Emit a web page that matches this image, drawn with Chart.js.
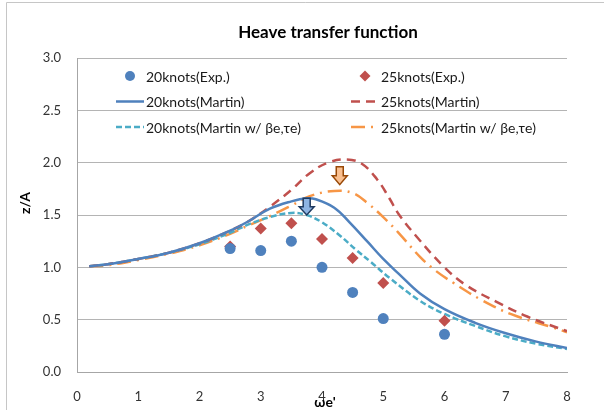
<!DOCTYPE html>
<html>
<head>
<meta charset="utf-8">
<script src="https://cdn.jsdelivr.net/npm/chart.js@4.4.0/dist/chart.umd.min.js"></script>
<style>
body { margin: 0; background: #fff; }
</style>
</head>
<body>
<canvas id="heaveChart" width="608" height="410"></canvas>
<script>
// experiments
const expX = [2.5, 3, 3.5, 4, 4.5, 5, 6];
const exp20 = [1.18, 1.16, 1.25, 1.00, 0.76, 0.51, 0.36];
const exp25 = [1.20, 1.37, 1.42, 1.27, 1.09, 0.85, 0.49];

// Martin, 20 knots
const m20X = [0.2, 0.5, 1, 1.5, 2, 2.5, 2.8, 3.15, 3.5, 3.75, 3.9, 4.2, 4.45, 4.75, 5, 5.25, 5.6, 6, 6.5, 7, 7.5, 8];
const m20Y = [1.01, 1.03, 1.08, 1.14, 1.23, 1.35, 1.44, 1.56, 1.63, 1.66, 1.65, 1.57, 1.43, 1.24, 1.08, 0.94, 0.75, 0.60, 0.47, 0.37, 0.29, 0.23];

// Martin, 25 knots
const m25X = [0.2, 0.5, 1, 1.5, 2, 2.5, 2.8, 3.15, 3.5, 3.8, 4.1, 4.4, 4.65, 4.9, 5.1, 5.25, 5.55, 6, 6.35, 6.85, 7.35, 8];
const m25Y = [1.01, 1.03, 1.08, 1.14, 1.23, 1.35, 1.44, 1.58, 1.74, 1.90, 2.00, 2.03, 1.99, 1.84, 1.66, 1.51, 1.29, 1.00, 0.83, 0.67, 0.53, 0.39];

// Martin w/ be,te, 20 knots
const m20eX = [0.2, 0.5, 1, 1.5, 2, 2.5, 2.8, 3.15, 3.5, 3.75, 4, 4.3, 4.55, 4.8, 5.1, 5.6, 6, 6.5, 7, 7.5, 8];
const m20eY = [1.01, 1.03, 1.08, 1.14, 1.22, 1.33, 1.41, 1.48, 1.52, 1.50, 1.43, 1.30, 1.17, 1.05, 0.90, 0.68, 0.555, 0.44, 0.34, 0.27, 0.22];

// Martin w/ be,te, 25 knots
const m25eX = [0.2, 0.5, 1, 1.5, 2, 2.5, 2.8, 3.15, 3.5, 3.8, 4.2, 4.5, 4.75, 5, 5.25, 5.6, 5.85, 6.15, 6.6, 7.1, 7.8, 8];
const m25eY = [1.01, 1.02, 1.07, 1.13, 1.21, 1.32, 1.40, 1.49, 1.59, 1.68, 1.73, 1.71, 1.61, 1.48, 1.33, 1.10, 0.97, 0.85, 0.69, 0.55, 0.42, 0.38];

// peak arrows (x, tip, top)
const arrowX = [3.75, 4.29];
const arrowTip = [1.50, 1.79];
const arrowTop = [1.66, 1.96];

const FONT = 'Lato, "Open Sans", sans-serif';

function pts(xs, ys) {
    return xs.map(function(x, i) { return {x: x, y: ys[i]}; });
}

function drawArrow(c, x, yTip, yTop, fill, stroke) {
    var h = yTip - yTop;
    var headY = yTip - h * 0.5;
    c.beginPath();
    c.moveTo(x - 3.5, yTop);
    c.lineTo(x + 3.5, yTop);
    c.lineTo(x + 3.5, headY);
    c.lineTo(x + 7.5, headY);
    c.lineTo(x, yTip);
    c.lineTo(x - 7.5, headY);
    c.lineTo(x - 3.5, headY);
    c.closePath();
    c.fillStyle = fill;
    c.fill();
    c.lineWidth = 1.5;
    c.strokeStyle = stroke;
    c.stroke();
}

const extras = {
    id: 'extras',
    beforeDraw(chart) {
        const c = chart.ctx;
        c.save();
        c.fillStyle = '#fff';
        c.fillRect(0, 0, chart.width, chart.height);
        c.strokeStyle = '#c6c6c6';
        c.lineWidth = 1;
        c.beginPath();
        c.moveTo(6.5, 410);
        c.lineTo(6.5, 2.5);
        c.lineTo(604, 2.5);
        c.stroke();
        c.restore();
    },
    afterDatasetsDraw(chart) {
        const c = chart.ctx;
        const xs = chart.scales.x, ys = chart.scales.y;
        c.save();

        // arrows
        const fills = ['#8eb4e3', '#fac090'];
        const strokes = ['#1f3a60', '#984807'];
        for (let i = 0; i < arrowX.length; i++) {
            drawArrow(c, xs.getPixelForValue(arrowX[i]), ys.getPixelForValue(arrowTip[i]),
                ys.getPixelForValue(arrowTop[i]), fills[i], strokes[i]);
        }

        // legend
        const colX = [116, 351];
        c.font = '14px ' + FONT;
        c.textBaseline = 'middle';
        c.textAlign = 'left';
        chart.data.datasets.forEach(function(ds, i) {
            const col = i % 2, row = Math.floor(i / 2);
            const x0 = colX[col], y = 76 + row * 25.5;
            if (ds.showLine === false) {
                c.fillStyle = ds.backgroundColor;
                const cx = x0 + 14;
                c.beginPath();
                if (ds.pointStyle === 'circle') {
                    c.arc(cx, y, 5, 0, Math.PI * 2);
                } else {
                    c.moveTo(cx, y - 5.5); c.lineTo(cx + 5.5, y);
                    c.lineTo(cx, y + 5.5); c.lineTo(cx - 5.5, y);
                    c.closePath();
                }
                c.fill();
            } else {
                c.strokeStyle = ds.borderColor;
                c.lineWidth = ds.borderWidth;
                c.setLineDash(ds.borderDash || []);
                c.beginPath();
                c.moveTo(x0, y);
                c.lineTo(x0 + 28, y);
                c.stroke();
                c.setLineDash([]);
            }
            c.fillStyle = '#1a1a1a';
            c.fillText(ds.label, x0 + 30, y + 1);
        });

        // titles
        c.fillStyle = '#000';
        c.textAlign = 'center';
        c.font = 'bold 17px ' + FONT;
        c.fillText('Heave transfer function', 328, 33);
        c.font = 'bold 14px ' + FONT;
        c.fillText("ωe'", 325, 402);
        c.translate(25, 203);
        c.rotate(-Math.PI / 2);
        c.fillText('z/A', 0, 0);
        c.restore();
    }
};

const ctx = document.getElementById('heaveChart');

new Chart(ctx, {
    type: 'scatter',
    data: {
        datasets: [{
            label: '20knots(Exp.)',
            data: pts(expX, exp20),
            showLine: false,
            pointStyle: 'circle',
            pointRadius: 5.5,
            backgroundColor: '#4f81bd',
            borderColor: '#4f81bd',
            borderWidth: 0
        }, {
            label: '25knots(Exp.)',
            data: pts(expX, exp25),
            showLine: false,
            pointStyle: 'rectRot',
            pointRadius: 6,
            backgroundColor: '#c0504d',
            borderColor: '#c0504d',
            borderWidth: 0
        }, {
            label: '20knots(Martin)',
            data: pts(m20X, m20Y),
            showLine: true,
            pointRadius: 0,
            borderColor: '#4f81bd',
            borderWidth: 2.5,
            tension: 0.4
        }, {
            label: '25knots(Martin)',
            data: pts(m25X, m25Y),
            showLine: true,
            pointRadius: 0,
            borderColor: '#c0504d',
            borderWidth: 2.5,
            borderDash: [9, 6],
            tension: 0.4
        }, {
            label: '20knots(Martin w/ βe,τe)',
            data: pts(m20eX, m20eY),
            showLine: true,
            pointRadius: 0,
            borderColor: '#4bacc6',
            borderWidth: 2.5,
            borderDash: [6, 3],
            tension: 0.4
        }, {
            label: '25knots(Martin w/ βe,τe)',
            data: pts(m25eX, m25eY),
            showLine: true,
            pointRadius: 0,
            borderColor: '#f79646',
            borderWidth: 2.5,
            borderDash: [14, 6, 2, 6],
            tension: 0.4
        }]
    },
    options: {
        responsive: false,
        animation: false,
        layout: {
            padding: {top: 58, right: 41, left: 0, bottom: 0}
        },
        scales: {
            x: {
                type: 'linear',
                min: 0,
                max: 8,
                afterFit: function(s) { s.height = 38; },
                ticks: {stepSize: 1, padding: 9, color: '#333', font: {family: FONT, size: 13}},
                grid: {display: false},
                border: {color: '#a6a6a6'}
            },
            y: {
                min: 0,
                max: 3,
                afterFit: function(s) { s.width = 77; },
                ticks: {
                    stepSize: 0.5,
                    padding: 16,
                    color: '#333',
                    font: {family: FONT, size: 13},
                    callback: function(v) { return v.toFixed(1); }
                },
                grid: {color: '#b4b4b4', drawTicks: false},
                border: {color: '#a6a6a6'}
            }
        },
        plugins: {
            legend: {display: false},
            tooltip: {enabled: false}
        }
    },
    plugins: [extras]
});
</script>
</body>
</html>
